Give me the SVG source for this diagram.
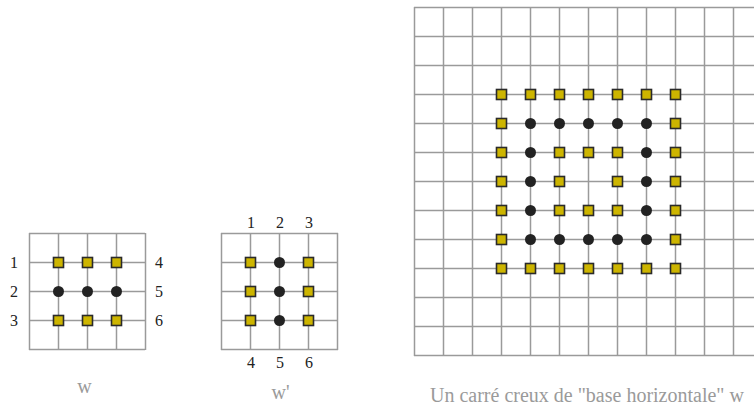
<svg xmlns="http://www.w3.org/2000/svg" xmlns:xlink="http://www.w3.org/1999/xlink" width="754" height="408" viewBox="0 0 754 408">
<style>
.grid{stroke:#9a9a9a;stroke-width:1.5;fill:none}
.num{font-family:"Liberation Serif","Times New Roman",serif;font-size:16px;fill:#222}
.cap{font-family:"Liberation Serif","Times New Roman",serif;font-size:20px;fill:#9a9a9a}
</style>
<defs>
<rect id="sq" x="-5" y="-5" width="10" height="10" fill="#cdb500" stroke="#2a2a2a" stroke-width="1.6"/>
<circle id="dot" r="5.5" fill="#222"/>
</defs>
<rect width="754" height="408" fill="#fff"/>

<g id="grid-w">
<path class="grid" d="M29 233.5H145M29 262.5H145M29 291.5H145M29 320.5H145M29 349.5H145M29.5 233V350M58.5 233V350M87.5 233V350M116.5 233V350M145.5 233V350"/>
<use xlink:href="#sq" x="58.5" y="262.5"/><use xlink:href="#sq" x="87.5" y="262.5"/><use xlink:href="#sq" x="116.5" y="262.5"/>
<use xlink:href="#dot" x="58.5" y="291.5"/><use xlink:href="#dot" x="87.5" y="291.5"/><use xlink:href="#dot" x="116.5" y="291.5"/>
<use xlink:href="#sq" x="58.5" y="320.5"/><use xlink:href="#sq" x="87.5" y="320.5"/><use xlink:href="#sq" x="116.5" y="320.5"/>
<text class="num" x="14" y="268" text-anchor="middle">1</text>
<text class="num" x="14" y="297" text-anchor="middle">2</text>
<text class="num" x="14" y="326" text-anchor="middle">3</text>
<text class="num" x="159" y="268" text-anchor="middle">4</text>
<text class="num" x="159" y="297" text-anchor="middle">5</text>
<text class="num" x="159" y="326" text-anchor="middle">6</text>
<text class="cap" x="84.5" y="393" text-anchor="middle">w</text>
</g>

<g id="grid-wprime">
<path class="grid" d="M221 233.5H338M221 262.5H338M221 291.5H338M221 320.5H338M221 349.5H338M221.5 233V350M250.5 233V350M279.5 233V350M308.5 233V350M337.5 233V350"/>
<use xlink:href="#sq" x="250.5" y="262.5"/><use xlink:href="#sq" x="250.5" y="291.5"/><use xlink:href="#sq" x="250.5" y="320.5"/>
<use xlink:href="#dot" x="279.5" y="262.5"/><use xlink:href="#dot" x="279.5" y="291.5"/><use xlink:href="#dot" x="279.5" y="320.5"/>
<use xlink:href="#sq" x="308.5" y="262.5"/><use xlink:href="#sq" x="308.5" y="291.5"/><use xlink:href="#sq" x="308.5" y="320.5"/>
<text class="num" x="251" y="228" text-anchor="middle">1</text>
<text class="num" x="280" y="228" text-anchor="middle">2</text>
<text class="num" x="309" y="228" text-anchor="middle">3</text>
<text class="num" x="251" y="368" text-anchor="middle">4</text>
<text class="num" x="280" y="368" text-anchor="middle">5</text>
<text class="num" x="309" y="368" text-anchor="middle">6</text>
<text class="cap" x="271.5" y="399">w'</text>
</g>

<g id="grid-big">
<path class="grid" d="M414 7.5H762M414 36.5H762M414 65.5H762M414 94.5H762M414 123.5H762M414 152.5H762M414 181.5H762M414 210.5H762M414 239.5H762M414 268.5H762M414 297.5H762M414 326.5H762M414 355.5H762
M414.5 7V356M443.5 7V356M472.5 7V356M501.5 7V356M530.5 7V356M559.5 7V356M588.5 7V356M617.5 7V356M646.5 7V356M675.5 7V356M704.5 7V356M733.5 7V356"/>
<g id="ring">
<use xlink:href="#sq" x="501.5" y="94.5"/><use xlink:href="#sq" x="530.5" y="94.5"/><use xlink:href="#sq" x="559.5" y="94.5"/><use xlink:href="#sq" x="588.5" y="94.5"/><use xlink:href="#sq" x="617.5" y="94.5"/><use xlink:href="#sq" x="646.5" y="94.5"/><use xlink:href="#sq" x="675.5" y="94.5"/>
<use xlink:href="#sq" x="501.5" y="123.5"/><use xlink:href="#dot" x="530.5" y="123.5"/><use xlink:href="#dot" x="559.5" y="123.5"/><use xlink:href="#dot" x="588.5" y="123.5"/><use xlink:href="#dot" x="617.5" y="123.5"/><use xlink:href="#dot" x="646.5" y="123.5"/><use xlink:href="#sq" x="675.5" y="123.5"/>
<use xlink:href="#sq" x="501.5" y="152.5"/><use xlink:href="#dot" x="530.5" y="152.5"/><use xlink:href="#sq" x="559.5" y="152.5"/><use xlink:href="#sq" x="588.5" y="152.5"/><use xlink:href="#sq" x="617.5" y="152.5"/><use xlink:href="#dot" x="646.5" y="152.5"/><use xlink:href="#sq" x="675.5" y="152.5"/>
<use xlink:href="#sq" x="501.5" y="181.5"/><use xlink:href="#dot" x="530.5" y="181.5"/><use xlink:href="#sq" x="559.5" y="181.5"/><use xlink:href="#sq" x="617.5" y="181.5"/><use xlink:href="#dot" x="646.5" y="181.5"/><use xlink:href="#sq" x="675.5" y="181.5"/>
<use xlink:href="#sq" x="501.5" y="210.5"/><use xlink:href="#dot" x="530.5" y="210.5"/><use xlink:href="#sq" x="559.5" y="210.5"/><use xlink:href="#sq" x="588.5" y="210.5"/><use xlink:href="#sq" x="617.5" y="210.5"/><use xlink:href="#dot" x="646.5" y="210.5"/><use xlink:href="#sq" x="675.5" y="210.5"/>
<use xlink:href="#sq" x="501.5" y="239.5"/><use xlink:href="#dot" x="530.5" y="239.5"/><use xlink:href="#dot" x="559.5" y="239.5"/><use xlink:href="#dot" x="588.5" y="239.5"/><use xlink:href="#dot" x="617.5" y="239.5"/><use xlink:href="#dot" x="646.5" y="239.5"/><use xlink:href="#sq" x="675.5" y="239.5"/>
<use xlink:href="#sq" x="501.5" y="268.5"/><use xlink:href="#sq" x="530.5" y="268.5"/><use xlink:href="#sq" x="559.5" y="268.5"/><use xlink:href="#sq" x="588.5" y="268.5"/><use xlink:href="#sq" x="617.5" y="268.5"/><use xlink:href="#sq" x="646.5" y="268.5"/><use xlink:href="#sq" x="675.5" y="268.5"/>
</g>
<text class="cap" x="430" y="402">Un carré creux de "base horizontale" w</text>
</g>
</svg>
